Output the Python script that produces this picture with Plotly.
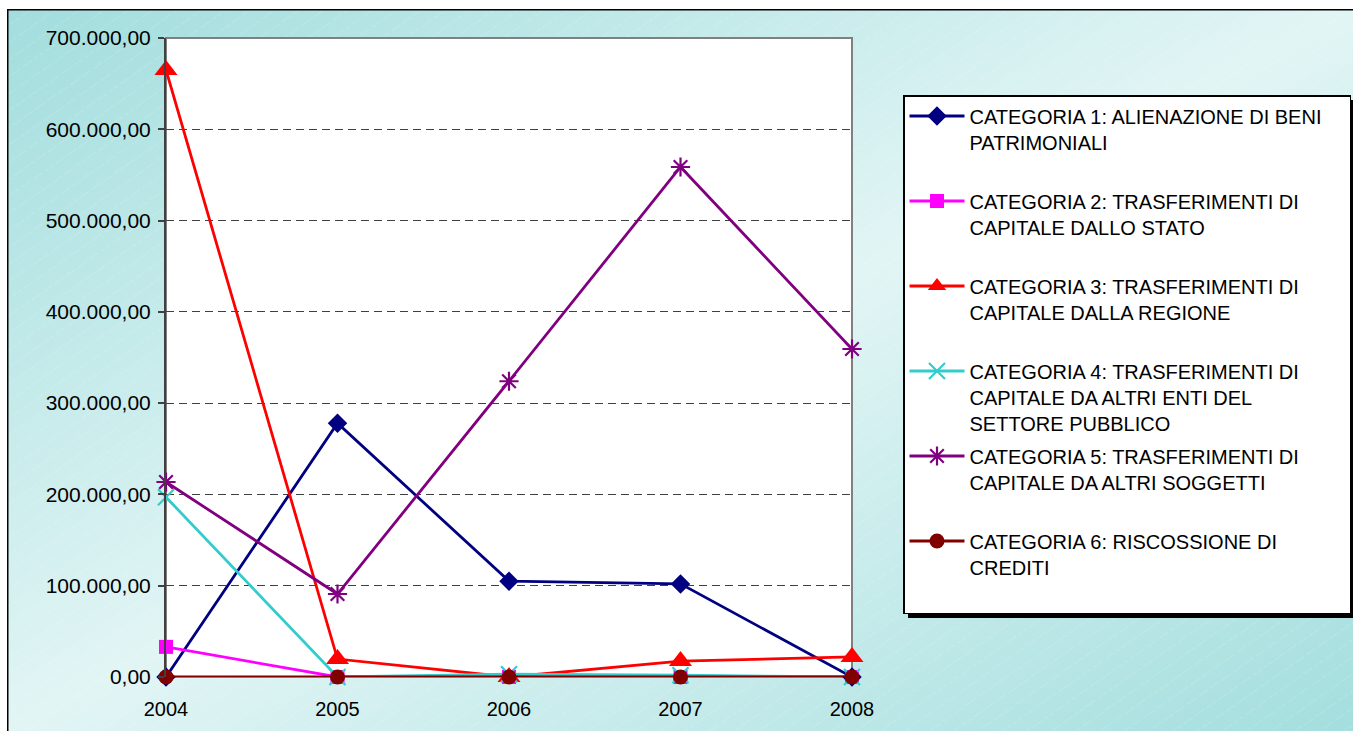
import base64
import plotly.graph_objects as go

years = [2004, 2005, 2006, 2007, 2008]
cat1 = [0, 278000, 105000, 102000, 0]
cat2 = [33000, 0, 0, 0, 0]
cat3 = [665000, 19700, 0, 17500, 22000]
cat4 = [197000, 0, 3000, 2000, 0]
cat5 = [213600, 90900, 324000, 558700, 359300]
cat6 = [0, 0, 0, 0, 0]

NB = "\u00a0"
names = [
    "CATEGORIA 1: ALIENAZIONE DI BENI" + NB * 4 + "<br>PATRIMONIALI<br>" + NB,
    "CATEGORIA 2: TRASFERIMENTI DI<br>CAPITALE DALLO STATO<br>" + NB,
    "CATEGORIA 3: TRASFERIMENTI DI<br>CAPITALE DALLA REGIONE<br>" + NB,
    "CATEGORIA 4: TRASFERIMENTI DI<br>CAPITALE DA ALTRI ENTI DEL<br>SETTORE PUBBLICO",
    "CATEGORIA 5: TRASFERIMENTI DI<br>CAPITALE DA ALTRI SOGGETTI<br>" + NB,
    "CATEGORIA 6: RISCOSSIONE DI<br>CREDITI<br>" + NB,
]
series = [cat1, cat2, cat3, cat4, cat5, cat6]
colors = ["#000080", "#FF00FF", "#FF0000", "#33CCCC", "#800080", "#800000"]
symbols = ["diamond", "square", "triangle-up", "x-thin", "asterisk", "circle"]
sizes = [15, 14, 20, 16, 16, 15]

W, H = 1353, 731
L, R, T, B = 166, 852, 38, 677

fig = go.Figure()
for i, (nm, ys) in enumerate(zip(names, series)):
    thin = symbols[i] in ("x-thin", "asterisk")
    fig.add_trace(go.Scatter(
        x=years, y=ys, name=nm, mode="lines+markers",
        legendgroup=f"g{i}",
        line=dict(color=colors[i], width=2.8),
        marker=dict(symbol=symbols[i], size=sizes[i], color=colors[i],
                    line=dict(color=colors[i], width=2.2 if thin else 0)),
        cliponaxis=False,
    ))

IW, IH = W - 7, H - 9
svg = f'''<svg xmlns="http://www.w3.org/2000/svg" width="{IW}" height="{IH}" viewBox="0 0 {IW} {IH}" preserveAspectRatio="none">
<defs>
<linearGradient id="g" x1="0" y1="0" x2="1" y2="1">
<stop offset="0" stop-color="#a2dddd"/>
<stop offset="0.5" stop-color="#e2f5f5"/>
<stop offset="1" stop-color="#a4dede"/>
</linearGradient>
<pattern id="p" width="14" height="14" patternUnits="userSpaceOnUse" patternTransform="rotate(-35)">
<line x1="0" y1="0" x2="14" y2="0" stroke="white" stroke-width="1" stroke-opacity="0.3" stroke-dasharray="5,3"/>
</pattern>
</defs>
<rect width="{IW}" height="{IH}" fill="url(#g)"/>
<rect width="{IW}" height="{IH}" fill="url(#p)"/>
<rect x="0.75" y="0.75" width="{IW + 10}" height="{IH + 10}" fill="none" stroke="black" stroke-width="1.5"/>
</svg>'''
src = "data:image/svg+xml;base64," + base64.b64encode(svg.encode()).decode()

pw, ph = R - L, B - T
def px(x):  # page x -> paper
    return (x - L) / pw
def py(y):  # page y -> paper
    return (B - y) / ph

fig.add_layout_image(dict(
    source=src, xref="paper", yref="paper",
    x=px(7), y=py(9), sizex=IW / pw, sizey=IH / ph,
    xanchor="left", yanchor="top", sizing="stretch", layer="below",
))

LEG_TOP = 95
shapes = [
    dict(type="rect", xref="paper", yref="paper", x0=0, x1=1, y0=0, y1=1,
         fillcolor="white", line=dict(width=0), layer="below"),
    dict(type="rect", xref="paper", yref="paper", x0=0, x1=1, y0=0, y1=1,
         fillcolor="rgba(0,0,0,0)", line=dict(color="#808080", width=2), layer="below"),
    dict(type="rect", xref="paper", yref="paper", x0=px(908), x1=px(1360),
         y0=py(618), y1=py(LEG_TOP + 5), fillcolor="black", line=dict(width=0), layer="below"),
]

font = dict(family="Liberation Sans, Arial, sans-serif", size=20, color="black")
tfont = dict(family="Liberation Sans, Arial, sans-serif", size=21, color="black")

fig.update_layout(
    width=W, height=H,
    margin=dict(l=L, r=W - R, t=T, b=H - B, pad=0, autoexpand=False),
    paper_bgcolor="white", plot_bgcolor="white",
    separators=",.",
    font=font,
    shapes=shapes,
    showlegend=True,
    legend=dict(
        x=px(903), y=py(LEG_TOP), xanchor="left", yanchor="top",
        bgcolor="white", bordercolor="black", borderwidth=1.5,
        font=font, valign="top", tracegroupgap=4, itemwidth=55,
    ),
    xaxis=dict(
        range=[2004, 2008], tickvals=years, ticktext=[str(y) for y in years],
        showgrid=False, zeroline=False, showline=False, ticks="",
        tickfont=font, fixedrange=True, ticklabelstandoff=18,
    ),
    yaxis=dict(
        range=[0, 700000], dtick=100000, tickformat=",.2f",
        showgrid=True, gridcolor="#404040", gridwidth=1, griddash="8px,5px",
        zeroline=False, showline=True, linecolor="#404040", linewidth=2,
        ticks="outside", ticklen=6, tickcolor="#404040", tickwidth=1.5,
        tickfont=tfont, fixedrange=True, ticklabelstandoff=3,
    ),
)

fig.write_html("out.html", config={"displayModeBar": False},
               post_script="document.body.style.margin='0';document.body.style.overflow='hidden';")
